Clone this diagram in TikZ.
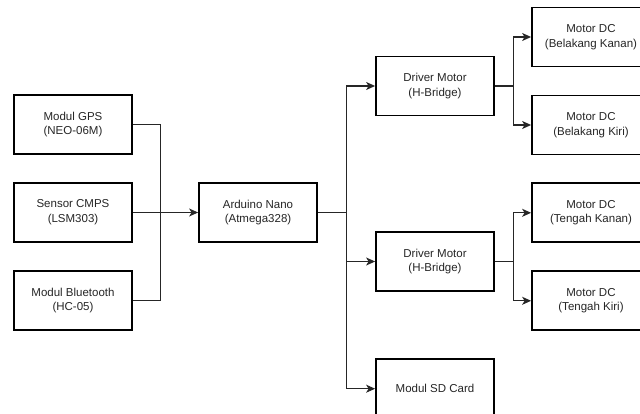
\documentclass[tikz,border=0pt]{standalone}
\usepackage{fontspec}
\setmainfont{Liberation Sans}
\usetikzlibrary{arrows.meta}
\begin{document}
\begin{tikzpicture}[x=1pt,y=-1pt,
  blk/.style={draw=black,line width=1.8pt,minimum width=118pt,minimum height=59pt,inner sep=0pt,
    align=center,font=\fontsize{11.5}{14.7}\selectfont,text=black!85},
  conn/.style={draw=black!85,line width=1.1pt},
  arr/.style={conn,-{Stealth[length=9pt,width=8pt,inset=2.5pt]}}]
\useasboundingbox (0,0) rectangle (640,414);
\clip (0,0) rectangle (640,414);
\fill[white] (0,0) rectangle (640,414);
% left column
\node[blk] (gps) at (73,124.5) {Modul GPS\\(NEO-06M)};
\node[blk] (cmps) at (73,212.5) {Sensor CMPS\\(LSM303)};
\node[blk] (bt) at (73,300.5) {Modul Bluetooth\\(HC-05)};
\node[blk] (ard) at (258,212.5) {Arduino Nano\\(Atmega328)};
% middle column
\node[blk] (drv1) at (435,86) {Driver Motor\\(H-Bridge)};
\node[blk] (drv2) at (435,261.5) {Driver Motor\\(H-Bridge)};
\node[blk] (sd) at (435,388.7) {Modul SD Card};
% motors
\node[blk] (m1) at (591,37) {Motor DC\\(Belakang Kanan)};
\node[blk] (m2) at (591,125) {Motor DC\\(Belakang Kiri)};
\node[blk] (m3) at (591,212.8) {Motor DC\\(Tengah Kanan)};
\node[blk] (m4) at (591,300.8) {Motor DC\\(Tengah Kiri)};
% connectors
\coordinate (busL) at (160.7,212.5);
\coordinate (busR) at (346.7,212.5);
\coordinate (br1) at (513.3,86);
\coordinate (br2) at (513.3,261.5);
\draw[conn] (gps.east) -| (busL);
\draw[conn] (bt.east) -| (busL);
\draw[arr] (cmps.east) -- (ard.west);
\draw[conn] (ard.east) -- (busR);
\draw[arr] (busR) |- (drv1.west);
\draw[arr] (busR) |- (drv2.west);
\draw[arr] (busR) |- (sd.west);
\draw[conn] (drv1.east) -- (br1);
\draw[arr] (br1) |- (m1.west);
\draw[arr] (br1) |- (m2.west);
\draw[conn] (drv2.east) -- (br2);
\draw[arr] (br2) |- (m3.west);
\draw[arr] (br2) |- (m4.west);
\end{tikzpicture}
\end{document}
